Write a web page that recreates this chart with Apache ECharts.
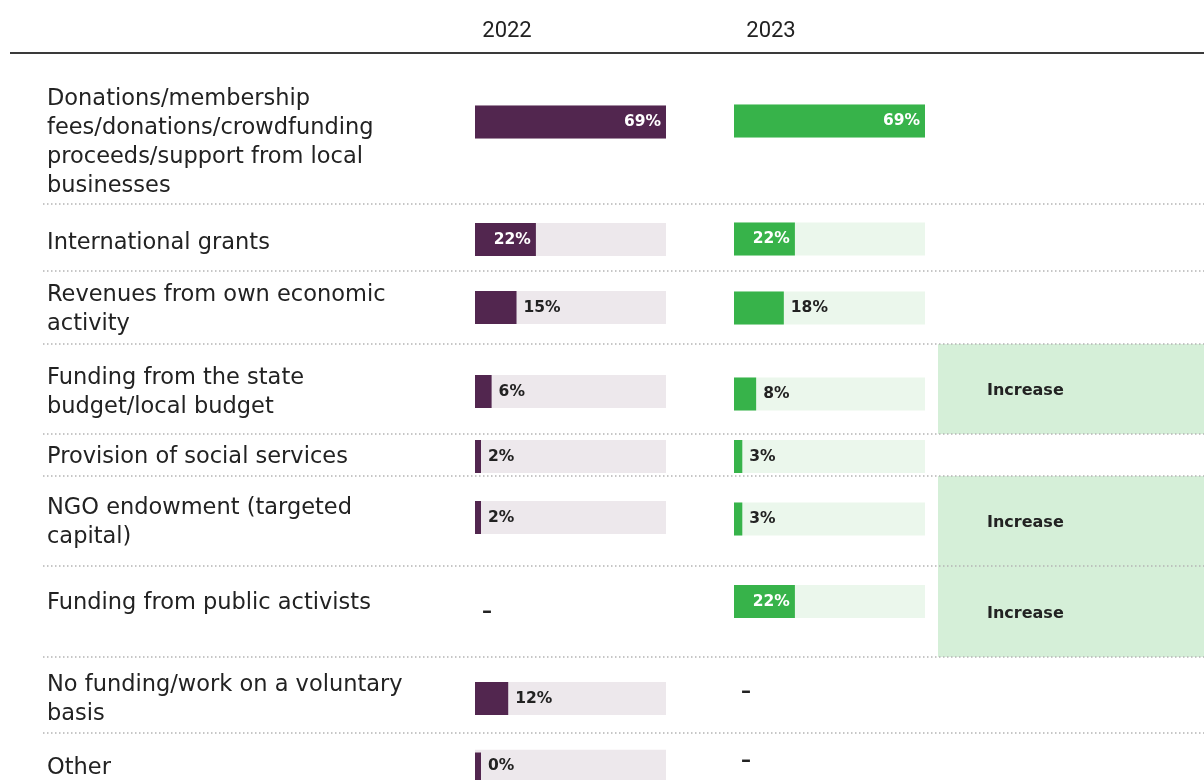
<!DOCTYPE html>
<html>
<head>
<meta charset="utf-8">
<script src="https://cdn.jsdelivr.net/npm/echarts@6/dist/echarts.min.js"></script>
<style>
  html, body { margin: 0; padding: 0; background: #fff; }
  #chart { width: 1204px; height: 780px; }
</style>
</head>
<body>
<div id="chart"></div>
<script>
// Funding sources of organisations, share of respondents (%)
const years = ['2022', '2023'];
const categories = [
  'Donations/membership\nfees/donations/crowdfunding\nproceeds/support from local\nbusinesses',
  'International grants',
  'Revenues from own economic\nactivity',
  'Funding from the state\nbudget/local budget',
  'Provision of social services',
  'NGO endowment (targeted\ncapital)',
  'Funding from public activists',
  'No funding/work on a voluntary\nbasis',
  'Other'
];
const values2022 = [69, 22, 15, 6, 2, 2, null, 12, 0];
const values2023 = [69, 22, 18, 8, 3, 3, 22, null, null];
const changeLabels = [null, null, null, 'Increase', null, 'Increase', 'Increase', null, null];

// ---- layout ----
const FONT = '"DejaVu Sans", sans-serif';
const labelCenters = [142.5, 243, 309.5, 392.5, 457, 522.5, 603, 699.5, 768];
const barCenters = [
  [122, 239.5, 307.5, 391.5, 456.5, 517.5, 612, 698.5, 769],
  [121, 239, 308, 394, 456.5, 519, 601.5, 692, 761]
];
const columns = [
  { left: 475, width: 191, header: 507, color: '#52264f', track: '#ede8ec' },
  { left: 734, width: 191, header: 771, color: '#37b34a', track: '#ebf7ec' }
];
const separators = [204, 271, 344, 434, 476, 566, 657, 733];
const changeBands = [[344, 434], [476, 566], [566, 657]];
const seriesValues = [values2022, values2023];
const BAR_H = 33;
const AXIS_MAX = 69;

const grids = [], xAxes = [], yAxes = [], series = [], graphics = [];

// highlight bands behind the change column
let band = 0;
changeLabels.forEach((t) => {
  if (!t) return;
  const [y0, y1] = changeBands[band++];
  graphics.push({
    type: 'rect', z: 0, silent: true,
    shape: { x: 938, y: y0, width: 1204 - 938, height: y1 - y0 },
    style: { fill: '#d5efd8' }
  });
  graphics.push({
    type: 'text', z: 5, silent: true,
    style: { text: t, x: 987, y: (y0 + y1) / 2 + 2, fill: '#222', font: 'bold 16px ' + FONT, verticalAlign: 'middle', align: 'left' }
  });
});

// header line and year titles
graphics.push({
  type: 'line', z: 5, silent: true,
  shape: { x1: 10, y1: 53, x2: 1204, y2: 53 },
  style: { stroke: '#3a3a3a', lineWidth: 2 }
});
years.forEach((yr, c) => {
  graphics.push({
    type: 'text', z: 5, silent: true,
    style: { text: yr, x: columns[c].header, y: 31, fill: '#222', font: '22px Roboto, sans-serif', align: 'center', verticalAlign: 'middle' }
  });
});

// dotted row separators
separators.forEach((y) => {
  graphics.push({
    type: 'line', z: 6, silent: true,
    shape: { x1: 43, y1: y, x2: 1204, y2: y },
    style: { stroke: '#b4b4b4', lineWidth: 1.5, lineDash: [1.5, 2.5] }
  });
});

// row labels
categories.forEach((cat, i) => {
  graphics.push({
    type: 'text', z: 5, silent: true,
    style: { text: cat, x: 47, y: labelCenters[i], fill: '#222', font: '22.5px ' + FONT, lineHeight: 29, verticalAlign: 'middle', align: 'left' }
  });
});

// one small grid per row and year, each holding a single bar
categories.forEach((cat, i) => {
  columns.forEach((col, c) => {
    const v = seriesValues[c][i];
    const cy = barCenters[c][i];
    if (v === null) {
      graphics.push({
        type: 'text', z: 5, silent: true,
        style: { text: '–', x: col.left + 12, y: cy, fill: '#222', font: 'bold 20px ' + FONT, verticalAlign: 'middle', align: 'center' }
      });
      return;
    }
    const g = grids.length;
    grids.push({ left: col.left, width: col.width, top: cy - BAR_H / 2, height: BAR_H, containLabel: false });
    xAxes.push({ type: 'value', gridIndex: g, min: 0, max: AXIS_MAX, show: false });
    yAxes.push({ type: 'category', gridIndex: g, data: [cat], show: false });
    const inside = v >= 20;
    series.push({
      type: 'bar',
      xAxisIndex: g, yAxisIndex: g,
      data: [v],
      barWidth: BAR_H,
      barMinHeight: 6,
      silent: true,
      itemStyle: { color: col.color },
      showBackground: true,
      backgroundStyle: { color: col.track },
      label: {
        show: true,
        position: inside ? 'insideRight' : 'right',
        distance: inside ? 5 : 7,
        formatter: '{c}%',
        color: inside ? '#fff' : '#222',
        fontFamily: FONT,
        fontWeight: 'bold',
        fontSize: 15.5
      }
    });
  });
});

const chart = echarts.init(document.getElementById('chart'), null, { renderer: 'canvas' });
chart.setOption({
  animation: false,
  grid: grids,
  xAxis: xAxes,
  yAxis: yAxes,
  series: series,
  graphic: { elements: graphics }
});
</script>
</body>
</html>
